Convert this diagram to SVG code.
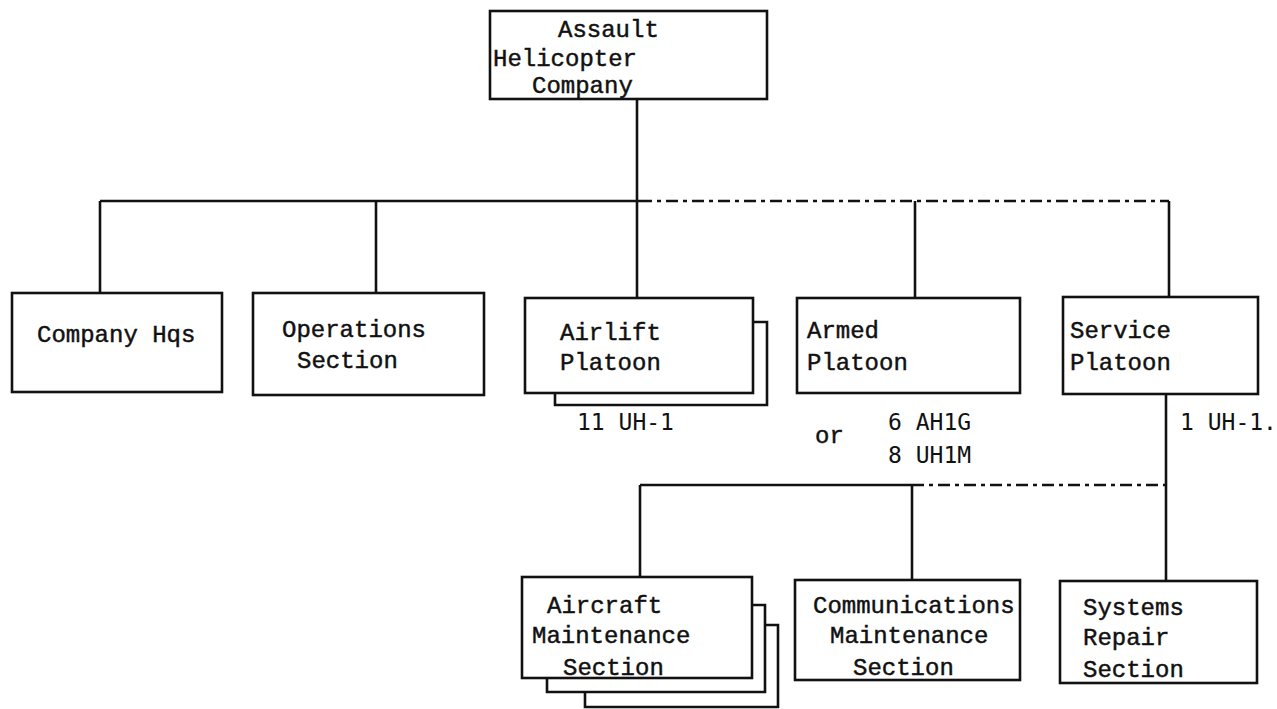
<svg xmlns="http://www.w3.org/2000/svg" width="1277" height="709" viewBox="0 0 1277 709">
<style>
.box{fill:none;stroke:#111;stroke-width:2.6}
.ln{fill:none;stroke:#111;stroke-width:2.6}
.ds{fill:none;stroke:#111;stroke-width:2.6;stroke-dasharray:12 5 4 5}
.t{font-family:"Liberation Mono","Courier New",monospace;font-size:24px;fill:#111;stroke:#111;stroke-width:0.45}
.n{font-family:"DejaVu Sans Mono","Liberation Mono",monospace;font-size:23px;fill:#111}
</style>
<rect width="1277" height="709" fill="#fff"/>
<g id="connectors">
<line class="ln" x1="637" y1="99" x2="637" y2="202"/>
<line class="ln" x1="100" y1="201" x2="640" y2="201"/>
<line class="ds" x1="640" y1="201" x2="1169" y2="201"/>
<line class="ln" x1="100" y1="201" x2="100" y2="293"/>
<line class="ln" x1="376" y1="201" x2="376" y2="293"/>
<line class="ln" x1="637" y1="201" x2="637" y2="298"/>
<line class="ln" x1="915" y1="201" x2="915" y2="298"/>
<line class="ln" x1="1169" y1="201" x2="1169" y2="297"/>
<line class="ln" x1="1166" y1="394" x2="1166" y2="581"/>
<line class="ln" x1="640" y1="485" x2="912" y2="485"/>
<line class="ds" x1="912" y1="485" x2="1166" y2="485"/>
<line class="ln" x1="640" y1="485" x2="640" y2="577"/>
<line class="ln" x1="912" y1="485" x2="912" y2="580"/>
</g>
<g id="node-company">
<rect class="box" x="490" y="11" width="277" height="88"/>
<text class="t" x="558" y="37">Assault</text>
<text class="t" x="493" y="66">Helicopter</text>
<text class="t" x="532" y="93">Company</text>
</g>
<g id="node-hqs">
<rect class="box" x="12" y="293" width="210" height="99"/>
<text class="t" x="37" y="342">Company Hqs</text>
</g>
<g id="node-ops">
<rect class="box" x="253" y="293" width="231" height="102"/>
<text class="t" x="282" y="337">Operations</text>
<text class="t" x="297" y="368">Section</text>
</g>
<g id="node-airlift">
<rect class="box" x="525" y="298" width="228" height="95"/>
<path class="ln" d="M753,322 H767 V405 H555 V393"/>
<text class="t" x="560" y="340">Airlift</text>
<text class="t" x="560" y="370">Platoon</text>
<text class="n" x="577" y="430">11 UH-1</text>
</g>
<g id="node-armed">
<rect class="box" x="797" y="298" width="223" height="95"/>
<text class="t" x="807" y="338">Armed</text>
<text class="t" x="807" y="370">Platoon</text>
<text class="t" x="815" y="443">or</text>
<text class="n" x="888" y="430">6 AH1G</text>
<text class="n" x="888" y="463">8 UH1M</text>
</g>
<g id="node-service">
<rect class="box" x="1063" y="297" width="195" height="97"/>
<text class="t" x="1070" y="338">Service</text>
<text class="t" x="1070" y="370">Platoon</text>
<text class="n" x="1180" y="430" font-size="21">1 UH-1.</text>
</g>
<g id="node-aircraft">
<rect class="box" x="522" y="577" width="230" height="101"/>
<path class="ln" d="M752,605 H765 V692 H547 V678"/>
<path class="ln" d="M765,625 H778 V707 H585 V692"/>
<text class="t" x="547" y="613">Aircraft</text>
<text class="t" x="532" y="643">Maintenance</text>
<text class="t" x="563" y="675">Section</text>
</g>
<g id="node-comms">
<rect class="box" x="795" y="580" width="225" height="100"/>
<text class="t" x="813" y="613">Communications</text>
<text class="t" x="830" y="643">Maintenance</text>
<text class="t" x="853" y="675">Section</text>
</g>
<g id="node-systems">
<rect class="box" x="1060" y="581" width="197" height="102"/>
<text class="t" x="1083" y="615">Systems</text>
<text class="t" x="1083" y="645">Repair</text>
<text class="t" x="1083" y="677">Section</text>
</g>
</svg>
